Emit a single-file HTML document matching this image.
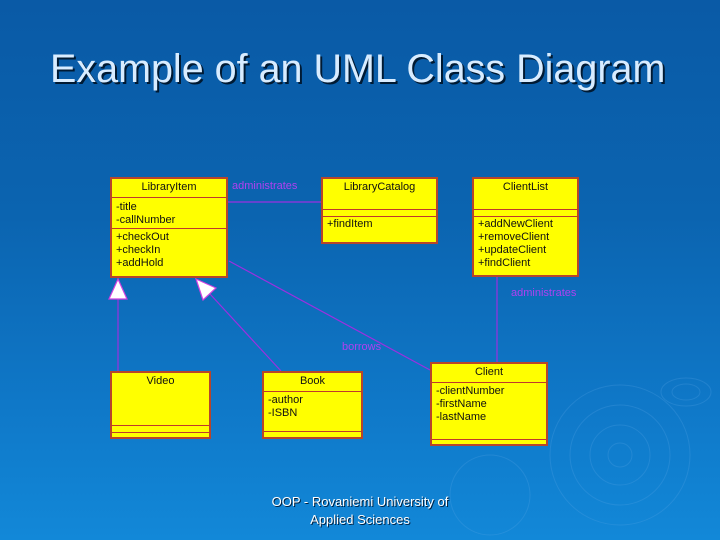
<!DOCTYPE html>
<html><head><meta charset="utf-8"><style>
body{margin:0;width:720px;height:540px;overflow:hidden;font-family:"Liberation Sans",sans-serif;}
.bg{position:absolute;left:0;top:0;width:720px;height:540px;background:linear-gradient(180deg,#0a5aa6 0%,#0b64b0 40%,#0f78c8 75%,#1288d8 100%);}
.t{position:absolute;left:50px;top:47px;font-size:39.5px;color:#d8ecff;text-shadow:2px 2px 0 #001a33;white-space:nowrap;}
.box{position:absolute;background:#ffff00;border:2px solid #b8452a;box-sizing:border-box;font-size:11px;color:#111;line-height:13px;}
.sep{position:absolute;left:0;right:0;border-top:1.5px solid #c0392b;}
.h{position:absolute;left:0;right:0;text-align:center;top:2px;}
.a{position:absolute;left:4px;}
.lbl{position:absolute;font-size:11px;color:#b040f0;}
.f{position:absolute;left:240px;width:240px;text-align:center;top:493px;font-size:13px;color:#fff;line-height:18px;text-shadow:1px 1px 0 #002040;}
</style></head><body>
<div class="bg"></div>
<svg style="position:absolute;left:0;top:0" width="720" height="540">
<g fill="none" stroke="#5aa8e8" stroke-opacity="0.25">
<circle cx="620" cy="455" r="70"/><circle cx="620" cy="455" r="50"/><circle cx="620" cy="455" r="30"/><circle cx="620" cy="455" r="12"/>
<ellipse cx="686" cy="392" rx="25" ry="14"/><ellipse cx="686" cy="392" rx="14" ry="8"/>
<circle cx="490" cy="495" r="40"/>
</g>
<g stroke="#9b30e0" stroke-width="1.2" fill="none">
<line x1="227" y1="202" x2="321" y2="202"/>
<line x1="497" y1="276" x2="497" y2="362"/>
<line x1="229" y1="261" x2="430" y2="370"/>
<line x1="118" y1="299" x2="118" y2="371"/>
<line x1="210" y1="294" x2="281" y2="371"/>
</g>
<polygon points="118,279 109,299 127,299" fill="#fff" stroke="#d040e0" stroke-width="1.2"/>
<polygon points="196,279 216,288 203,300" fill="#fff" stroke="#d040e0" stroke-width="1.2"/>
</svg>
<div class="t">Example of an UML Class Diagram</div>

<div class="box" style="left:110px;top:177px;width:118px;height:101px">
<div class="h">LibraryItem</div><div class="sep" style="top:18px"></div>
<div class="a" style="top:22px">-title<br>-callNumber</div><div class="sep" style="top:49px"></div>
<div class="a" style="top:52px">+checkOut<br>+checkIn<br>+addHold</div></div>

<div class="box" style="left:321px;top:177px;width:117px;height:67px">
<div class="h">LibraryCatalog</div><div class="sep" style="top:30px"></div><div class="sep" style="top:37px"></div>
<div class="a" style="top:39px">+findItem</div></div>

<div class="box" style="left:472px;top:177px;width:107px;height:100px">
<div class="h">ClientList</div><div class="sep" style="top:30px"></div><div class="sep" style="top:37px"></div>
<div class="a" style="top:39px">+addNewClient<br>+removeClient<br>+updateClient<br>+findClient</div></div>

<div class="box" style="left:110px;top:371px;width:101px;height:68px">
<div class="h">Video</div><div class="sep" style="top:52px"></div><div class="sep" style="top:59px"></div></div>

<div class="box" style="left:262px;top:371px;width:101px;height:68px">
<div class="h">Book</div><div class="sep" style="top:18px"></div>
<div class="a" style="top:21px">-author<br>-ISBN</div><div class="sep" style="top:58px"></div></div>

<div class="box" style="left:430px;top:362px;width:118px;height:84px">
<div class="h">Client</div><div class="sep" style="top:18px"></div>
<div class="a" style="top:21px">-clientNumber<br>-firstName<br>-lastName</div><div class="sep" style="top:75px"></div></div>

<div class="lbl" style="left:232px;top:180px">administrates</div>
<div class="lbl" style="left:511px;top:287px">administrates</div>
<div class="lbl" style="left:342px;top:341px">borrows</div>

<div class="f">OOP - Rovaniemi University of<br>Applied Sciences</div>
</body></html>
